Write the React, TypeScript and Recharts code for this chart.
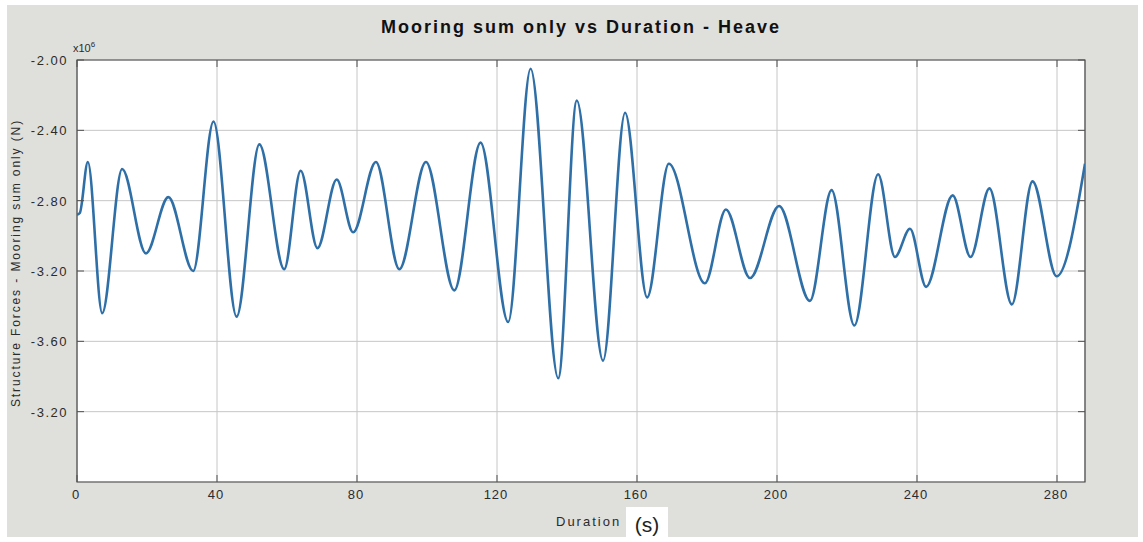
import React from "react";
import {
  CartesianGrid,
  Line,
  LineChart,
  ReferenceArea,
  XAxis,
  YAxis,
} from "recharts";

// duration (s) and heave mooring force (x10^6 N), read at the turning points
const times = [
  0, 0.8, 3.1, 7.2, 12.9, 19.7, 26.1, 33.2, 39.0, 45.6, 52.1, 59.2, 63.9, 68.7,
  74.2, 78.9, 85.4, 92.1, 99.7, 107.8, 115.3, 123.2, 129.6, 137.5, 142.8, 150.3,
  156.6, 162.9, 169.1, 179.4, 185.4, 192.3, 200.6, 209.4, 215.6, 222.1, 228.9,
  233.7, 238.0, 242.6, 250.2, 255.3, 260.7, 267.1, 273.0, 279.9, 288,
];
const force = [
  -2.88, -2.87, -2.58, -3.44, -2.62, -3.1, -2.78, -3.2, -2.35, -3.46, -2.48,
  -3.19, -2.63, -3.07, -2.68, -2.98, -2.58, -3.19, -2.58, -3.31, -2.47, -3.49,
  -2.05, -3.81, -2.23, -3.71, -2.3, -3.35, -2.59, -3.27, -2.85, -3.24, -2.83,
  -3.37, -2.74, -3.51, -2.65, -3.12, -2.96, -3.29, -2.77, -3.12, -2.73, -3.39,
  -2.69, -3.23, -2.59,
];

const xTicks = [0, 40, 80, 120, 160, 200, 240, 280];
const yTicks = [-4.0, -3.6, -3.2, -2.8, -2.4, -2.0];
// labels as printed on the original figure
const yTickLabels = ["-3.20", "-3.60", "-3.20", "-2.80", "-2.40", "-2.00"];

const data = times.map((t, i) => ({ t, force: force[i] }));

const FONT = '"Liberation Sans", Arial, sans-serif';
const TEXT = "#2b2b2b";
const TICK = "#505050";
const PLOT_TOP = 60;
const PLOT_BOTTOM = 482;
const PLOT_LEFT = 77;
const PLOT_RIGHT = 1085;
const MARK = 7;

function XTick({ x, y, payload }: any) {
  return (
    <g>
      <line x1={x} x2={x} y1={PLOT_BOTTOM} y2={PLOT_BOTTOM - MARK} stroke={TICK} />
      <line x1={x} x2={x} y1={PLOT_TOP} y2={PLOT_TOP + MARK} stroke={TICK} />
      <text
        x={x - 1}
        y={y}
        dy={13}
        textAnchor="middle"
        fontSize={13}
        letterSpacing={1}
        fontFamily={FONT}
        fill={TEXT}
      >
        {payload.value}
      </text>
    </g>
  );
}

function YTick({ x, y, payload }: any) {
  const i = yTicks.indexOf(payload.value);
  return (
    <g>
      <line x1={PLOT_LEFT} x2={PLOT_LEFT + MARK} y1={y} y2={y} stroke={TICK} />
      <line x1={PLOT_RIGHT - MARK} x2={PLOT_RIGHT} y1={y} y2={y} stroke={TICK} />
      <text
        x={x}
        y={y}
        dy={5}
        textAnchor="end"
        fontSize={13}
        letterSpacing={1.5}
        fontFamily={FONT}
        fill={TEXT}
      >
        {yTickLabels[i]}
      </text>
    </g>
  );
}

export default function App() {
  return (
    <div
      style={{
        position: "absolute",
        left: 0,
        top: 0,
        width: 1143,
        height: 542,
        background: "#fff",
        fontFamily: FONT,
        overflow: "hidden",
      }}
    >
      <div
        style={{
          position: "absolute",
          left: 7,
          top: 5,
          width: 1131,
          height: 532,
          background: "#dfdfdb",
        }}
      />
      <div style={{ position: "absolute", left: 0, top: 0 }}>
        <LineChart
          width={1143}
          height={542}
          data={data}
          margin={{ top: PLOT_TOP, right: 1143 - PLOT_RIGHT, left: PLOT_LEFT - 60, bottom: 30 }}
        >
          <CartesianGrid stroke="#c6c6c6" fill="#fff" />
          <XAxis
            dataKey="t"
            type="number"
            domain={[0, 288]}
            ticks={xTicks}
            interval={0}
            allowDataOverflow
            axisLine={false}
            tickLine={false}
            tickSize={0}
            tickMargin={4}
            height={30}
            tick={<XTick />}
          />
          <YAxis
            type="number"
            domain={[-4.4, -2.0]}
            ticks={yTicks}
            interval={0}
            allowDataOverflow
            axisLine={false}
            tickLine={false}
            tickSize={0}
            tickMargin={9}
            width={60}
            tick={<YTick />}
          />
          <Line
            type="monotone"
            dataKey="force"
            stroke="#2f6fa7"
            strokeWidth={2.6}
            dot={false}
            activeDot={false}
            isAnimationActive={false}
          />
          <ReferenceArea
            x1={0}
            x2={288}
            y1={-4.4}
            y2={-2.0}
            fill="none"
            stroke="#4a4a4a"
            strokeWidth={1.2}
          />
        </LineChart>
      </div>
      <div
        style={{
          position: "absolute",
          left: 0,
          width: 1162,
          top: 17,
          textAlign: "center",
          fontSize: 18,
          fontWeight: "bold",
          letterSpacing: 2,
          color: "#111",
          whiteSpace: "nowrap",
        }}
      >
        Mooring sum only vs Duration - Heave
      </div>
      <div
        style={{
          position: "absolute",
          left: 73,
          top: 40,
          fontSize: 11,
          color: TEXT,
          whiteSpace: "nowrap",
        }}
      >
        x10<sup style={{ fontSize: 8 }}>6</sup>
      </div>
      <div
        style={{
          position: "absolute",
          left: 16,
          top: 263,
          transform: "translate(-50%, -50%) rotate(-90deg)",
          fontSize: 12,
          letterSpacing: 1.9,
          color: TEXT,
          whiteSpace: "nowrap",
        }}
      >
        Structure Forces - Mooring sum only (N)
      </div>
      <div
        style={{
          position: "absolute",
          left: 556,
          top: 514,
          fontSize: 13,
          letterSpacing: 2,
          color: TEXT,
          whiteSpace: "nowrap",
        }}
      >
        Duration
      </div>
      <div
        style={{
          position: "absolute",
          left: 626,
          top: 507,
          width: 42,
          height: 35,
          background: "#fff",
          color: "#222",
          fontSize: 21,
          textAlign: "center",
          lineHeight: "35px",
        }}
      >
        (s)
      </div>
    </div>
  );
}
